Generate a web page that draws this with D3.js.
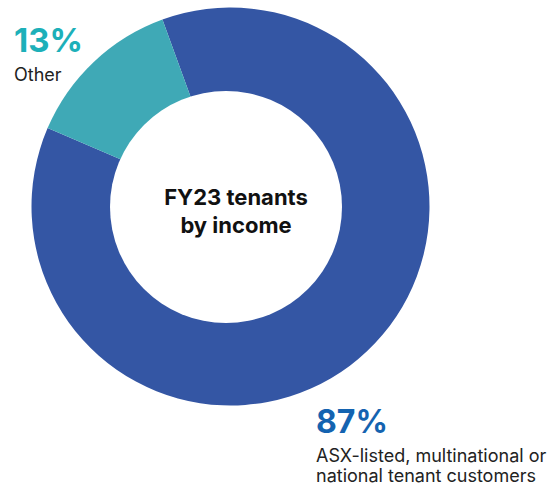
<!DOCTYPE html>
<html><head><meta charset="utf-8">
<script src="https://cdn.jsdelivr.net/npm/d3@7"></script>
<style>html,body{margin:0;padding:0;background:#fff;}svg{display:block;}</style>
</head><body>
<svg id="c" width="560" height="488"></svg>
<script>
const categories = ["ASX-listed, multinational or national tenant customers", "Other"];
const values = [87, 13];
const pctLabels = ["87%", "13%"];
const colors = ["#3456A4", "#3FA9B6"];
const labelColors = ["#1463B0", "#1DB0B9"];

const svg = d3.select("#c");
const cx = 230.5, cy = 206.5, R = 199;
const deg = Math.PI / 180;
const pie = d3.pie().sort(null).value(d => d)
  .startAngle(-20 * deg).endAngle(340 * deg);
const arc = d3.arc().innerRadius(0).outerRadius(R);
const g = svg.append("g").attr("transform", `translate(${cx},${cy})`);
g.selectAll("path").data(pie(values)).join("path")
  .attr("d", arc).attr("fill", (d, i) => colors[i]);
// hole
svg.append("circle").attr("cx", 226).attr("cy", 207).attr("r", 116).attr("fill", "#fff");

const font = "Inter, 'Noto Sans', sans-serif";
// center title
svg.append("text").attr("x", 236).attr("y", 205).attr("text-anchor", "middle")
  .attr("font-family", font).attr("font-weight", 700).attr("font-size", 22)
  .attr("fill", "#111").text("FY23 tenants");
svg.append("text").attr("x", 236).attr("y", 233).attr("text-anchor", "middle")
  .attr("font-family", font).attr("font-weight", 700).attr("font-size", 22)
  .attr("fill", "#111").text("by income");

// Other label
svg.append("text").attr("x", 14).attr("y", 52)
  .attr("font-family", font).attr("font-weight", 700).attr("font-size", 33)
  .attr("fill", labelColors[1]).text(pctLabels[1]);
svg.append("text").attr("x", 14).attr("y", 81)
  .attr("font-family", font).attr("font-size", 18)
  .attr("fill", "#222").text(categories[1]);

// Main label
svg.append("text").attr("x", 316).attr("y", 433)
  .attr("font-family", font).attr("font-weight", 700).attr("font-size", 32)
  .attr("fill", labelColors[0]).text(pctLabels[0]);
const mainLines = ["ASX-listed, multinational or", "national tenant customers"];
mainLines.forEach((t, i) => {
  svg.append("text").attr("x", 316).attr("y", 462 + i * 20)
    .attr("font-family", font).attr("font-size", 18)
    .attr("fill", "#222").text(t);
});
</script>
</body></html>
